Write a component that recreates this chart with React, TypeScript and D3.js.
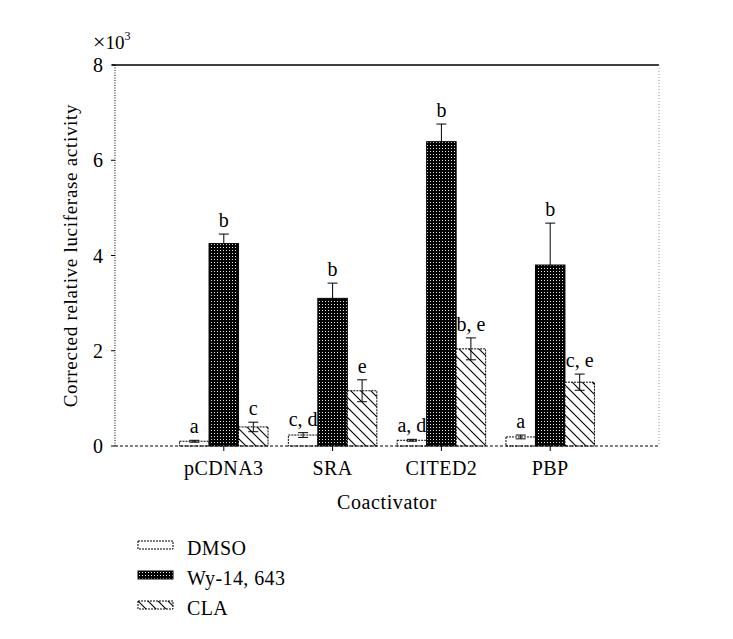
import React from "react";
import * as d3 from "d3";

const categories = ["pCDNA3", "SRA", "CITED2", "PBP"];
const seriesNames = ["DMSO", "Wy-14, 643", "CLA"];
const dmsoValues = [0.1, 0.23, 0.12, 0.19];
const dmsoErrors = [0.02, 0.05, 0.02, 0.04];
const wyValues = [4.25, 3.1, 6.39, 3.8];
const wyErrors = [0.2, 0.32, 0.37, 0.88];
const claValues = [0.4, 1.16, 2.04, 1.34];
const claErrors = [0.1, 0.23, 0.23, 0.17];
const dmsoLetters = ["a", "c, d", "a, d", "a"];
const wyLetters = ["b", "b", "b", "b"];
const claLetters = ["c", "e", "b, e", "c, e"];
const yTicks = [0, 2, 4, 6, 8];

const W = 733;
const H = 639;
const left = 115;
const right = 659;
const top = 65;
const bottom = 446;
const FONT = "'Liberation Serif', 'DejaVu Serif', serif";

export default function App() {
  const x = d3.scaleBand<string>().domain(categories).range([left, right]).paddingInner(0).paddingOuter(0.5);
  const inner = d3.scaleBand<string>().domain(seriesNames).range([0, 88.5]).padding(0);
  const y = d3.scaleLinear().domain([0, 8]).range([bottom, top]);

  const series = [
    { name: seriesNames[0], values: dmsoValues, errors: dmsoErrors, letters: dmsoLetters, fill: "#fff" },
    { name: seriesNames[1], values: wyValues, errors: wyErrors, letters: wyLetters, fill: "url(#dots)" },
    { name: seriesNames[2], values: claValues, errors: claErrors, letters: claLetters, fill: "url(#hatch)" },
  ];

  const step = x.step();
  const groupOffset = (step - 88.5) / 2;

  return (
    <svg width={W} height={H} style={{ position: "absolute", left: 0, top: 0, background: "#fff" }} fontFamily={FONT}>
      <defs>
        <pattern id="dots" patternUnits="userSpaceOnUse" width={3} height={3}>
          <rect width={3} height={3} fill="#000" />
          <rect x={1} y={1} width={1} height={1} fill="#fff" opacity={0.9} />
        </pattern>
        <pattern id="hatch" patternUnits="userSpaceOnUse" width={10} height={10}>
          <rect width={10} height={10} fill="#fff" />
          <path d="M0,0 L10,10 M-2,8 L2,12 M8,-2 L12,2" stroke="#000" strokeWidth={1.1} />
        </pattern>
      </defs>

      {/* frame */}
      <line x1={left - 3} x2={right} y1={top} y2={top} stroke="#000" strokeWidth={1.6} />
      <line x1={right} x2={right} y1={top} y2={bottom} stroke="#999" strokeWidth={1} strokeDasharray="1,2" />

      {/* bars */}
      {series.map((s, si) =>
        categories.map((c, ci) => {
          const bx = (x(c) as number) + groupOffset + (inner(s.name) as number);
          const bw = inner.bandwidth();
          const v = s.values[ci];
          const e = s.errors[ci];
          const cx = bx + bw / 2;
          const yTop = y(v + e);
          const yBot = si === 1 ? y(v) : y(Math.max(0, v - e));
          return (
            <g key={`${si}-${ci}`}>
              <rect x={bx} y={y(v)} width={bw} height={bottom - y(v)} fill={s.fill} stroke="#000" strokeWidth={1} strokeDasharray={si === 1 ? undefined : "2,1"} />
              <line x1={cx} x2={cx} y1={yTop} y2={yBot} stroke="#000" strokeWidth={1} />
              <line x1={cx - 5} x2={cx + 5} y1={yTop} y2={yTop} stroke="#000" strokeWidth={1} />
              {si !== 1 && <line x1={cx - 5} x2={cx + 5} y1={yBot} y2={yBot} stroke="#000" strokeWidth={1} />}
              <text x={cx} y={yTop - 7} textAnchor="middle" fontSize={20}>{s.letters[ci]}</text>
            </g>
          );
        })
      )}

      {/* axes */}
      <line x1={left} x2={left} y1={top} y2={bottom} stroke="#000" strokeWidth={1} strokeDasharray="1,1.5" />
      <line x1={left} x2={right} y1={bottom} y2={bottom} stroke="#000" strokeWidth={1} strokeDasharray="3,2" />
      {yTicks.map((t) => (
        <g key={t}>
          <line x1={left - 4} x2={left} y1={y(t)} y2={y(t)} stroke="#000" strokeWidth={1} />
          <text x={103} y={y(t) + 7} textAnchor="end" fontSize={20}>{t}</text>
        </g>
      ))}
      {categories.map((c) => {
        const cx = (x(c) as number) + step / 2;
        return (
          <g key={c}>
            <line x1={cx} x2={cx} y1={bottom} y2={bottom + 5} stroke="#000" strokeWidth={1} />
            <text x={cx} y={475} textAnchor="middle" fontSize={20} letterSpacing={0.5}>{c}</text>
          </g>
        );
      })}

      <text x={93} y={49} fontSize={19}><tspan fontSize={22}>×</tspan><tspan>10</tspan><tspan fontSize={12} dy={-9}>3</tspan></text>

      <text transform={`translate(77, ${(top + bottom) / 2}) rotate(-90)`} textAnchor="middle" fontSize={19} letterSpacing={0.7}>
        Corrected relative luciferase activity
      </text>
      <text x={(left + right) / 2} y={509} textAnchor="middle" fontSize={20} letterSpacing={0.6}>Coactivator</text>

      {/* legend */}
      {series.map((s, i) => (
        <g key={s.name} transform={`translate(138, ${541 + i * 30})`}>
          <rect x={0} y={0} width={35} height={8} fill={s.fill} stroke="#000" strokeWidth={1} strokeDasharray={i === 1 ? undefined : "2,1"} />
          <text x={49} y={14} fontSize={20} letterSpacing={0.4}>{s.name}</text>
        </g>
      ))}
    </svg>
  );
}
